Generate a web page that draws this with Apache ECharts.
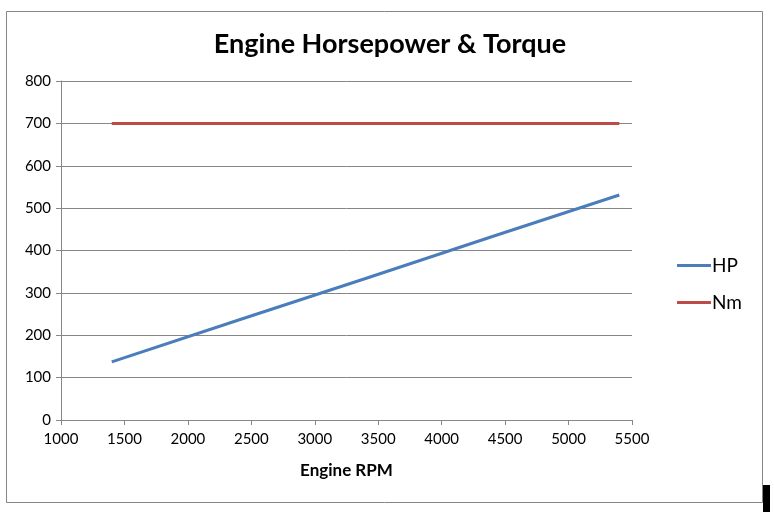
<!DOCTYPE html>
<html>
<head>
<meta charset="utf-8">
<script src="https://cdn.jsdelivr.net/npm/echarts@6/dist/echarts.min.js"></script>
<style>
  html, body { margin: 0; padding: 0; background: #fff; }
  #main { width: 774px; height: 512px; }
</style>
</head>
<body>
<div id="main"></div>
<script>
// data
var rpm = [1400, 2400, 3400, 4400, 5400];
var hp = [137, 236, 334, 433, 531];
var nm = [700, 700, 700, 700, 700];
var seriesNames = ['HP', 'Nm'];

function pairs(xs, ys) {
  var out = [];
  for (var i = 0; i < xs.length; i++) out.push([xs[i], ys[i]]);
  return out;
}

var chart = echarts.init(document.getElementById('main'));
chart.setOption({
  animation: false,
  textStyle: { fontFamily: 'Lato' },
  title: {
    text: 'Engine Horsepower & Torque',
    top: 26,
    left: 385,
    textAlign: 'center',
    textStyle: { fontSize: 27, fontWeight: 'bold', color: '#000', fontFamily: 'Lato' }
  },
  legend: {
    orient: 'vertical',
    left: 672,
    top: 251,
    itemGap: 18,
    itemWidth: 34,
    itemHeight: 3,
    icon: 'rect',
    textStyle: { fontSize: 19, color: '#000', padding: [0, 0, 0, -4] },
    data: seriesNames
  },
  graphic: [
    { type: 'rect', shape: { x: 6.5, y: 11.5, width: 756, height: 491 },
      style: { fill: 'none', stroke: '#868686', lineWidth: 1 } },
    { type: 'rect', shape: { x: 763, y: 485, width: 7, height: 27 },
      style: { fill: '#000' } }
  ],
  grid: { left: 61, right: 142, top: 81, bottom: 92 },
  xAxis: {
    type: 'value',
    min: 1000, max: 5500, interval: 500,
    name: 'Engine RPM',
    nameLocation: 'middle',
    nameGap: 42,
    nameTextStyle: { fontSize: 17, fontWeight: 'bold', color: '#000' },
    axisLine: { lineStyle: { color: '#868686' } },
    axisTick: { show: true, length: 5, lineStyle: { color: '#868686' } },
    axisLabel: { fontSize: 15, color: '#000', margin: 12, formatter: function (v) { return String(v); } },
    splitLine: { show: false }
  },
  yAxis: {
    type: 'value',
    min: 0, max: 800, interval: 100,
    axisLine: { show: true, lineStyle: { color: '#868686' } },
    axisTick: { show: true, length: 5, lineStyle: { color: '#868686' } },
    axisLabel: { fontSize: 15, color: '#000', margin: 10 },
    splitLine: { lineStyle: { color: '#868686' } }
  },
  series: [
    { name: seriesNames[0], type: 'line', data: pairs(rpm, hp), showSymbol: false,
      lineStyle: { color: '#4A7EBB', width: 3 }, itemStyle: { color: '#4A7EBB' } },
    { name: seriesNames[1], type: 'line', data: pairs(rpm, nm), showSymbol: false,
      lineStyle: { color: '#BE4B48', width: 3 }, itemStyle: { color: '#BE4B48' } }
  ]
});
</script>
</body>
</html>
